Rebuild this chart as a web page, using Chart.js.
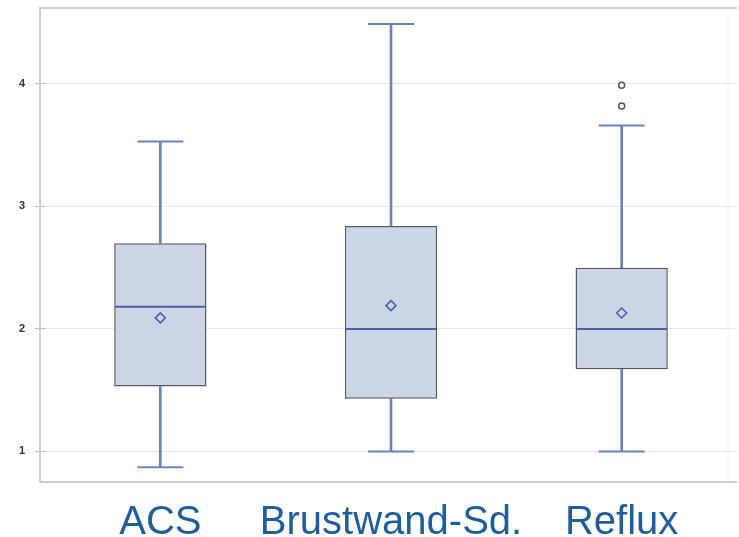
<!DOCTYPE html>
<html>
<head>
<meta charset="utf-8">
<script src="https://cdn.jsdelivr.net/npm/chart.js@4"></script>
<style>
  html, body { margin: 0; padding: 0; background: #fff; }
  #wrap { width: 739px; height: 537px; }
</style>
</head>
<body>
<div id="wrap"><canvas id="box-chart"></canvas></div>
<script>
// box plot values
const categories = ['ACS', 'Brustwand-Sd.', 'Reflux'];
const whiskerLow = [0.87, 1.0, 1.0];
const q1 = [1.53, 1.43, 1.67];
const median = [2.18, 2.0, 2.0];
const q3 = [2.70, 2.84, 2.50];
const whiskerHigh = [3.53, 4.49, 3.66];
const means = [2.09, 2.19, 2.13];
const outlierCat = ['Reflux', 'Reflux'];
const outlierVal = [3.99, 3.82];
const yTicks = [1, 2, 3, 4];

const boxBlue = '#6d82bb';
const lineBlue = '#4b5ea6';

const chartCanvas = document.getElementById('box-chart');

// light frame around the plot area, left edge a bit outside the first category
const framePlugin = {
    id: 'frame',
    beforeDatasetsDraw(chart)
    {
        const a = chart.chartArea;
        const ctx = chart.ctx;
        const left = a.left - 5;
        ctx.save();
        ctx.strokeStyle = '#cfcfcf';
        ctx.lineWidth = 2;
        ctx.beginPath();
        ctx.moveTo(left, a.bottom);
        ctx.lineTo(left, a.top);
        ctx.lineTo(a.right, a.top);
        ctx.moveTo(left, a.bottom);
        ctx.lineTo(a.right, a.bottom);
        ctx.stroke();
        ctx.strokeStyle = '#f0f0f0';
        ctx.lineWidth = 1;
        ctx.beginPath();
        ctx.moveTo(a.right - 9, a.top);
        ctx.lineTo(a.right - 9, a.bottom);
        ctx.stroke();
        ctx.restore();
    }
};

const span = (lo, hi) => lo.map((v, i) => [v, hi[i]]);

const config = {
    type: 'bar',
    data: {
        labels: categories,
        datasets: [
            {
                type: 'bar', data: span(whiskerLow, q1), grouped: false, order: 6,
                backgroundColor: boxBlue, borderWidth: 0, barThickness: 2
            },
            {
                type: 'bar', data: span(q3, whiskerHigh), grouped: false, order: 6,
                backgroundColor: boxBlue, borderWidth: 0, barThickness: 2
            },
            {
                type: 'bar', data: span(q1, q3), grouped: false, order: 5,
                backgroundColor: '#cbd5e5', borderColor: '#55595f', borderWidth: 1.5,
                borderSkipped: false, categoryPercentage: 1, barPercentage: 0.4
            },
            {
                type: 'line', data: whiskerLow, showLine: false, order: 4,
                pointStyle: 'line', pointRadius: 23, pointBorderWidth: 2, pointBorderColor: boxBlue
            },
            {
                type: 'line', data: whiskerHigh, showLine: false, order: 4,
                pointStyle: 'line', pointRadius: 23, pointBorderWidth: 2, pointBorderColor: boxBlue
            },
            {
                type: 'line', data: median, showLine: false, order: 3,
                pointStyle: 'line', pointRadius: 45.5, pointBorderWidth: 2, pointBorderColor: lineBlue
            },
            {
                type: 'line', data: means, showLine: false, order: 2,
                pointStyle: 'rectRot', pointRadius: 5, pointBorderWidth: 1.5,
                pointBorderColor: lineBlue, pointBackgroundColor: 'rgba(0,0,0,0)'
            },
            {
                type: 'line', data: outlierCat.map((c, i) => ({ x: c, y: outlierVal[i] })),
                showLine: false, order: 1,
                pointStyle: 'circle', pointRadius: 3, pointBorderWidth: 1.5,
                pointBorderColor: '#555555', pointBackgroundColor: 'rgba(0,0,0,0)'
            }
        ]
    },
    options: {
        responsive: true,
        maintainAspectRatio: false,
        animation: false,
        layout: { autoPadding: false, padding: { top: 8, right: 2, left: 0, bottom: 0 } },
        scales: {
            x: {
                grid: { display: false, drawTicks: false },
                border: { display: false },
                afterFit: scale => { scale.height = 55; },
                ticks: {
                    autoSkip: false,
                    maxRotation: 0,
                    padding: 17,
                    color: '#1f5d9b',
                    font: { family: 'Liberation Sans, Arial, sans-serif', size: 40 }
                }
            },
            y: {
                min: 0.75,
                max: 4.62,
                grid: { color: '#e8e8e8', tickColor: '#bdbdbd', tickLength: 10 },
                border: { display: false },
                afterBuildTicks: scale => { scale.ticks = yTicks.map(v => ({ value: v })); },
                afterFit: scale => {
                    scale.width = 45;
                    scale.paddingTop = 0;
                    scale.paddingBottom = 0;
                },
                ticks: {
                    padding: 10,
                    color: '#333333',
                    font: { family: 'Liberation Sans, Arial, sans-serif', size: 11, weight: 'bold' }
                }
            }
        },
        plugins: {
            legend: { display: false },
            tooltip: { enabled: false }
        }
    },
    plugins: [framePlugin]
};

const myChart = new Chart(chartCanvas, config);
</script>
</body>
</html>
